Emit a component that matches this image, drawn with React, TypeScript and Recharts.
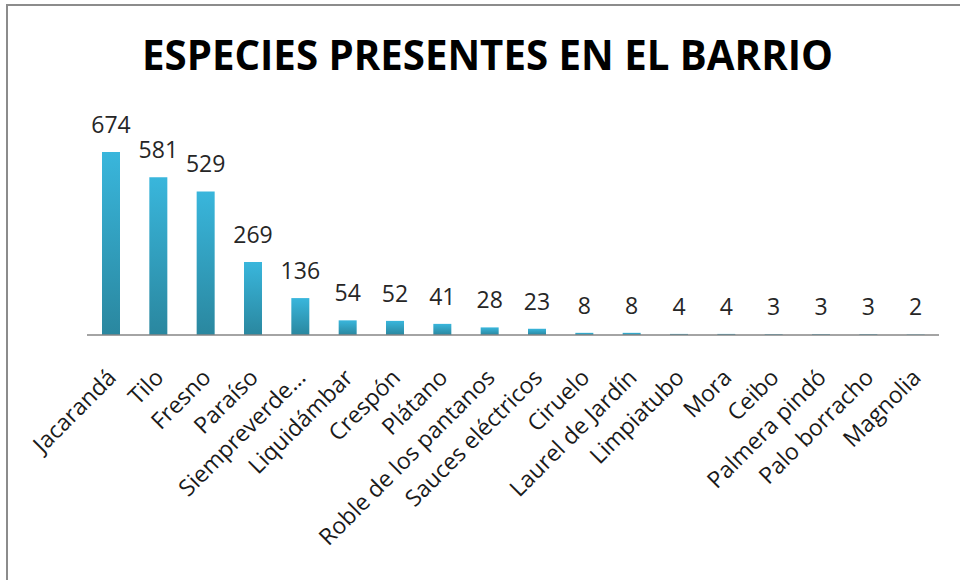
import React from 'react';
import { BarChart, Bar, XAxis, YAxis, LabelList } from 'recharts';

const species = [
  'Jacarandá', 'Tilo', 'Fresno', 'Paraíso', 'Siempreverde...', 'Liquidámbar', 'Crespón', 'Plátano',
  'Roble de los pantanos', 'Sauces eléctricos', 'Ciruelo', 'Laurel de Jardín', 'Limpiatubo', 'Mora',
  'Ceibo', 'Palmera pindó', 'Palo borracho', 'Magnolia',
];
const counts = [674, 581, 529, 269, 136, 54, 52, 41, 28, 23, 8, 8, 4, 4, 3, 3, 3, 2];

const data = species.map((name, i) => ({ name, value: counts[i] }));

const font = '"Open Sans", "Noto Sans", sans-serif';

const SpeciesTick = (props: any) => {
  const { x, y, payload } = props;
  const ex = x + 7;
  const ey = y + 36;
  return (
    <text
      x={ex}
      y={ey}
      transform={`rotate(-45, ${ex}, ${ey})`}
      textAnchor="end"
      fontFamily={font}
      fontSize={23}
      fill="#1a1a1a"
    >
      {payload.value}
    </text>
  );
};

const ValueLabel = (props: any) => {
  const { x, y, width, value } = props;
  return (
    <text x={x + width / 2} y={y - 19} textAnchor="middle" fontFamily={font} fontSize={23} fill="#262626">
      {value}
    </text>
  );
};

const App: React.FC = () => {
  return (
    <div style={{ position: 'fixed', left: 0, top: 0, width: 960, height: 580, overflow: 'hidden', background: '#fff' }}>
      <div
        style={{
          position: 'absolute', left: 6, top: 4, width: 954, height: 576,
          borderLeft: '2px solid #8c8c8c', borderTop: '2px solid #8c8c8c', boxSizing: 'border-box',
        }}
      />
      <svg width={0} height={0} style={{ position: 'absolute' }}>
        <defs>
          <linearGradient id="barGrad" x1="0" y1="0" x2="0" y2="1">
            <stop offset="0%" stopColor="#39b6dc" />
            <stop offset="100%" stopColor="#2a879f" />
          </linearGradient>
        </defs>
      </svg>
      <svg width={960} height={100} style={{ position: 'absolute', left: 0, top: 0 }}>
        <text x={142} y={70} textLength={691} lengthAdjust="spacingAndGlyphs" fontFamily={font} fontWeight={700} fontSize={42} fill="#000">
          ESPECIES PRESENTES EN EL BARRIO
        </text>
      </svg>
      <div style={{ position: 'absolute', left: 0, top: 0 }}>
        <BarChart width={960} height={580} data={data} margin={{ top: 145, right: 21, left: 87, bottom: 0 }} barSize={18}>
          <XAxis
            dataKey="name"
            height={245}
            interval={0}
            tickLine={false}
            axisLine={{ stroke: '#868686', strokeWidth: 1.5 }}
            tick={<SpeciesTick />}
          />
          <YAxis hide domain={[0, 700]} />
          <Bar dataKey="value" fill="url(#barGrad)" isAnimationActive={false}>
            <LabelList dataKey="value" content={<ValueLabel />} />
          </Bar>
        </BarChart>
      </div>
    </div>
  );
};

export default App;
